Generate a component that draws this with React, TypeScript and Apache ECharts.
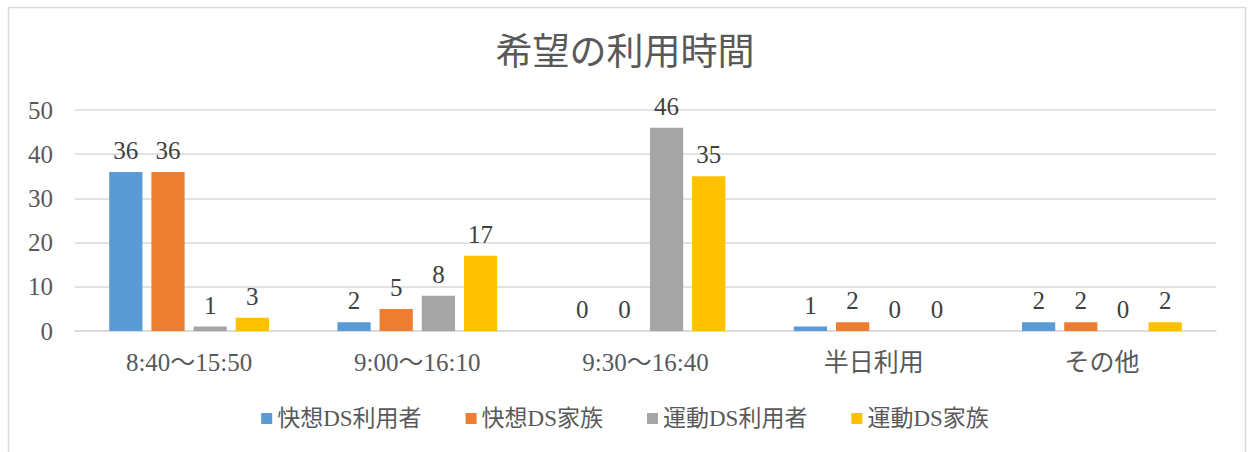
import React, { useEffect, useRef } from "react";
import * as echarts from "echarts";

const categories = ["8:40〜15:50", "9:00〜16:10", "9:30〜16:40", "半日利用", "その他"];
const seriesNames = ["快想DS利用者", "快想DS家族", "運動DS利用者", "運動DS家族"];
const kaisoUser = [36, 2, 0, 1, 2];
const kaisoFamily = [36, 5, 0, 2, 2];
const undoUser = [1, 8, 46, 0, 0];
const undoFamily = [3, 17, 35, 0, 2];
const colors = ["#5B9BD5", "#ED7D31", "#A5A5A5", "#FFC000"];
const yTicks = { min: 0, max: 50, interval: 10 };

const FONT = "'Liberation Serif', 'DejaVu Serif', 'Noto Sans CJK JP', serif";

export default function App() {
  const ref = useRef<HTMLDivElement>(null);
  useEffect(() => {
    if (!ref.current) return;
    const chart = echarts.init(ref.current, undefined, { renderer: "svg" });
    const data = [kaisoUser, kaisoFamily, undoUser, undoFamily];
    chart.setOption({
      animation: false,
      textStyle: { fontFamily: FONT },
      graphic: [
        {
          type: "rect",
          shape: { x: 8.5, y: 7.5, width: 1237, height: 470 },
          style: { fill: "none", stroke: "#d9d9d9", lineWidth: 1.5 },
          silent: true,
        },
      ],
      title: {
        text: "希望の利用時間",
        left: "center",
        top: 29,
        textStyle: { fontFamily: FONT, fontSize: 37, fontWeight: "normal", color: "#595959" },
      },
      legend: {
        top: 402,
        left: "center",
        itemWidth: 11,
        itemHeight: 11,
        itemGap: 44,
        icon: "rect",
        textStyle: { fontFamily: FONT, fontSize: 23, color: "#595959" },
        data: seriesNames,
      },
      grid: { left: 75, right: 34, top: 110, bottom: 121 },
      xAxis: {
        type: "category",
        data: categories,
        axisLine: { lineStyle: { color: "#d9d9d9", width: 1.5 } },
        axisTick: { show: false },
        axisLabel: { fontFamily: FONT, fontSize: 25, color: "#595959", margin: 19 },
      },
      yAxis: {
        type: "value",
        min: yTicks.min,
        max: yTicks.max,
        interval: yTicks.interval,
        axisLine: { show: false },
        axisTick: { show: false },
        splitLine: { lineStyle: { color: "#d9d9d9", width: 1.5 } },
        axisLabel: { fontFamily: FONT, fontSize: 25, color: "#595959", margin: 22 },
      },
      series: seriesNames.map((name, i) => ({
        name,
        type: "bar",
        data: data[i],
        itemStyle: { color: colors[i] },
        barGap: "27%",
        barCategoryGap: "30%",
        label: {
          show: true,
          position: "top",
          distance: 9,
          fontFamily: FONT,
          fontSize: 25,
          color: "#404040",
        },
      })),
    });
    return () => chart.dispose();
  }, []);
  return (
    <div
      ref={ref}
      style={{ position: "absolute", left: 0, top: 0, width: 1250, height: 452, background: "#fff" }}
    />
  );
}
